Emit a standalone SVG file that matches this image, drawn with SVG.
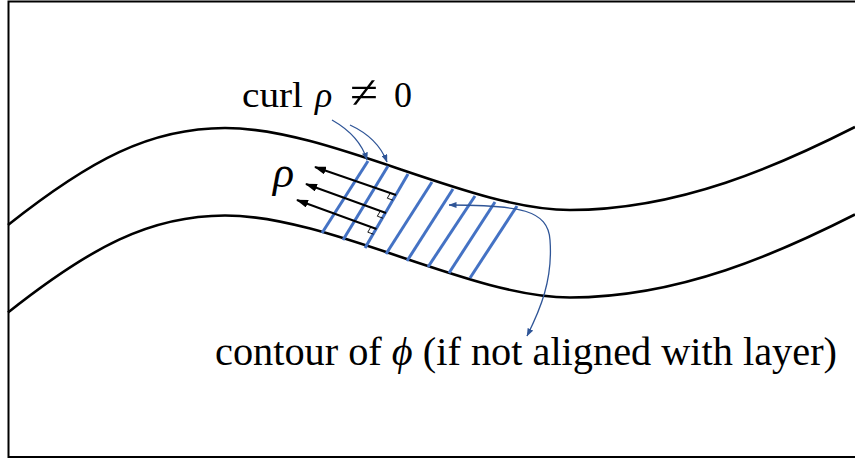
<svg xmlns="http://www.w3.org/2000/svg" width="855" height="459" viewBox="0 0 855 459">
<style>
.frame{fill:none;stroke:#000;stroke-width:2}
.layer{fill:none;stroke:#000;stroke-width:2.6}
.hatch{stroke:#4472C4;stroke-width:3;stroke-linecap:butt}
.vec{stroke:#000;stroke-width:2;fill:none}
.ra{stroke:#000;stroke-width:0.9;fill:none}
.note{stroke:#2F5597;stroke-width:1.3;fill:none}
.t{font-family:"Liberation Serif","Times New Roman",serif;fill:#000}
</style>
<defs>
<marker id="ah" viewBox="0 0 12 8" refX="11" refY="4" markerWidth="12" markerHeight="8" markerUnits="userSpaceOnUse" orient="auto-start-reverse"><path d="M0,0 L12,4 L0,8 z" fill="#000"/></marker>
<marker id="bh" viewBox="0 0 8 6" refX="7.5" refY="3" markerWidth="8" markerHeight="6" markerUnits="userSpaceOnUse" orient="auto-start-reverse"><path d="M0,0 L8,3 L0,6 z" fill="#2F5597"/></marker>
<path id="curve" d="M8,225 C 90,160 150,128 225,128 C 330,128 470,210 570,210 C 680,210 780,165 855,127"/>
</defs>
<path class="frame" d="M860,1.5 H8.5 V457 H860"/>
<g id="layer-top"><use href="#curve" class="layer"/></g>
<g id="layer-bottom"><use href="#curve" class="layer" transform="translate(0,87.5)"/></g>
<g id="contours">
<line class="hatch" x1="322" y1="233" x2="368" y2="161"/>
<line class="hatch" x1="343" y1="240" x2="388" y2="166"/>
<line class="hatch" x1="365" y1="248" x2="408" y2="174"/>
<line class="hatch" x1="386" y1="254" x2="432" y2="182"/>
<line class="hatch" x1="407" y1="261" x2="453" y2="189"/>
<line class="hatch" x1="428" y1="267" x2="475" y2="196"/>
<line class="hatch" x1="449" y1="273" x2="495" y2="202"/>
<line class="hatch" x1="470" y1="278" x2="517" y2="206"/>
</g>
<g id="rho-vectors">
<path class="vec" d="M396,195 L315,167" marker-end="url(#ah)"/>
<path class="vec" d="M386,213 L306,184" marker-end="url(#ah)"/>
<path class="vec" d="M376.5,229 L297,200" marker-end="url(#ah)"/>
<path class="ra" d="M390.3,193 L387.3,198.2 L393,200.2"/>
<path class="ra" d="M380.3,211 L377.3,216.2 L383,218.2"/>
<path class="ra" d="M370.8,227 L367.8,232.2 L373.5,234.2"/>
</g>
<g id="connectors">
<path class="note" d="M332,120 Q360,136 367,160" marker-end="url(#bh)"/>
<path class="note" d="M350,125 Q378,138 387,162" marker-end="url(#bh)"/>
<path class="note" d="M449,205 C 520,205 548,210 550,240 C 553,280 540,310 527,336" marker-start="url(#bh)" marker-end="url(#bh)"/>
</g>
<g id="label-curl">
<text class="t" x="242" y="107" font-size="36" textLength="61" lengthAdjust="spacingAndGlyphs">curl</text>
<text class="t" x="315" y="107" font-size="36" font-style="italic">ρ</text>
<text class="t" x="350" y="108" font-size="36" textLength="28" lengthAdjust="spacingAndGlyphs" transform="translate(350,108) scale(1,1.3) translate(-350,-108)">≠</text>
<text class="t" x="394" y="107" font-size="36">0</text>
</g>
<g id="label-rho">
<text class="t" x="273" y="187" font-size="44" font-style="italic">ρ</text>
</g>
<g id="label-contour">
<text class="t" x="215" y="365" font-size="40" textLength="622" lengthAdjust="spacingAndGlyphs">contour of <tspan font-style="italic">ϕ</tspan> (if not aligned with layer)</text>
</g>
</svg>
